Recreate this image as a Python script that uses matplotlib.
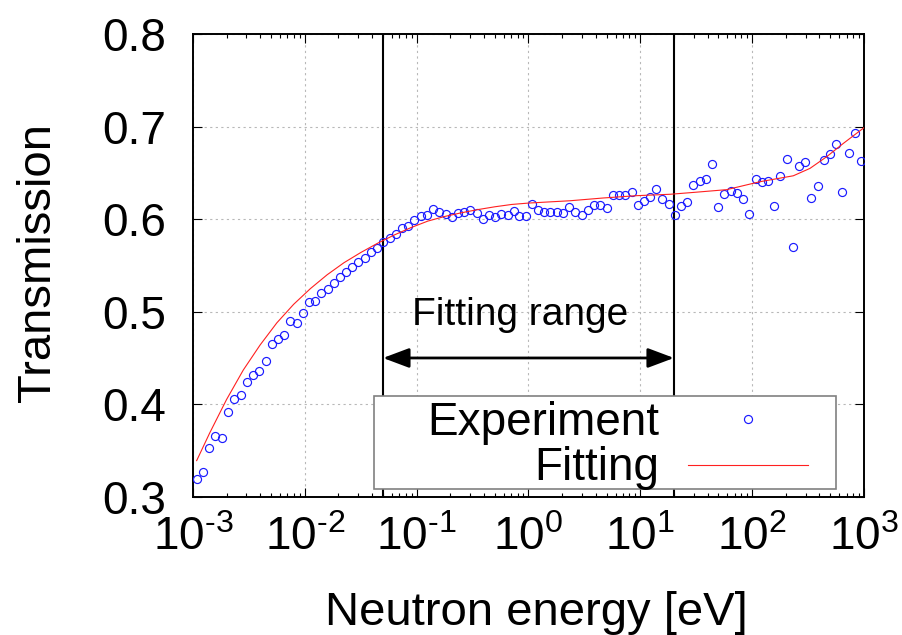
import numpy as np
import matplotlib
matplotlib.use('Agg')
import matplotlib.pyplot as plt
from matplotlib.patches import Rectangle

plt.rcParams['font.family'] = ['Liberation Sans', 'DejaVu Sans']
plt.rcParams['mathtext.fontset'] = 'custom'
plt.rcParams['mathtext.rm'] = 'Liberation Sans'
plt.rcParams['mathtext.it'] = 'Liberation Sans:italic'
plt.rcParams['mathtext.bf'] = 'Liberation Sans:bold'

# measured transmission, x given as log10(E / eV)
exp_log_e = [-2.967, -2.908, -2.854, -2.801, -2.743, -2.684, -2.631, -2.573, -2.520, -2.463,
             -2.407, -2.350, -2.296, -2.243, -2.186, -2.132, -2.073, -2.019, -1.965, -1.909,
             -1.853, -1.796, -1.742, -1.686, -1.632, -1.576, -1.522, -1.465, -1.411, -1.355,
             -1.301, -1.241, -1.185, -1.131, -1.075, -1.021, -0.961, -0.910, -0.857, -0.798,
             -0.740, -0.687, -0.630, -0.574, -0.520, -0.463, -0.407, -0.356, -0.299, -0.246,
             -0.186, -0.130, -0.082, -0.025, 0.031, 0.085, 0.139, 0.195, 0.252, 0.309,
             0.365, 0.419, 0.476, 0.532, 0.589, 0.642, 0.699, 0.753, 0.809, 0.866,
             0.923, 0.977, 1.033, 1.087, 1.140, 1.197, 1.254, 1.308, 1.364, 1.420,
             1.474, 1.531, 1.587, 1.641, 1.697, 1.751, 1.808, 1.864, 1.921, 1.975,
             2.032, 2.085, 2.142, 2.195, 2.252, 2.309, 2.363, 2.416, 2.473, 2.529,
             2.586, 2.640, 2.696, 2.750, 2.806, 2.863, 2.917, 2.973]
exp_trans = [0.319, 0.327, 0.353, 0.366, 0.363, 0.392, 0.406, 0.410, 0.424, 0.432,
             0.436, 0.447, 0.465, 0.471, 0.475, 0.490, 0.488, 0.499, 0.510, 0.512,
             0.520, 0.525, 0.531, 0.538, 0.543, 0.548, 0.554, 0.558, 0.565, 0.569,
             0.575, 0.580, 0.584, 0.591, 0.593, 0.599, 0.603, 0.605, 0.611, 0.608,
             0.606, 0.602, 0.607, 0.608, 0.610, 0.607, 0.600, 0.605, 0.602, 0.606,
             0.605, 0.609, 0.604, 0.604, 0.616, 0.610, 0.608, 0.608, 0.608, 0.607,
             0.613, 0.608, 0.605, 0.610, 0.615, 0.615, 0.612, 0.626, 0.626, 0.626,
             0.629, 0.615, 0.620, 0.624, 0.633, 0.622, 0.617, 0.605, 0.614, 0.619,
             0.637, 0.641, 0.644, 0.660, 0.613, 0.627, 0.631, 0.628, 0.622, 0.606,
             0.644, 0.640, 0.641, 0.614, 0.647, 0.665, 0.570, 0.658, 0.662, 0.623,
             0.636, 0.664, 0.671, 0.681, 0.630, 0.672, 0.693, 0.663]

# fitted curve
fit_log_e = [-2.967, -2.85, -2.70, -2.55, -2.40, -2.25, -2.10, -1.95, -1.80, -1.65,
             -1.50, -1.35, -1.20, -1.05, -0.90, -0.75, -0.60, -0.45, -0.30, -0.15,
             0.0, 0.371, 0.669, 0.967, 1.265, 1.474, 1.772, 2.070, 2.368, 2.517,
             2.666, 2.815, 3.0]
fit_trans = [0.339, 0.369, 0.405, 0.437, 0.464, 0.488, 0.508, 0.525, 0.540, 0.553,
             0.564, 0.574, 0.583, 0.591, 0.598, 0.603, 0.607, 0.6105, 0.6135, 0.616,
             0.6175, 0.620, 0.623, 0.6255, 0.627, 0.629, 0.632, 0.6406, 0.647, 0.655,
             0.6676, 0.682, 0.699]

range_lo, range_hi = 0.05, 20.0
y_ticks = [0.3, 0.4, 0.5, 0.6, 0.7, 0.8]

exp_e = 10.0 ** np.array(exp_log_e)
fit_e = 10.0 ** np.array(fit_log_e)


def decade_label(v, pos):
    # gnuplot style: plain hyphen in the exponent
    p = int(round(np.log10(v)))
    s = str(p).replace('-', '\u2010')
    return r'$\mathregular{10^{%s}}$' % s


fig = plt.figure(figsize=(9.03, 6.35), dpi=100)
ax = fig.add_axes([0.2137, 0.2178, 0.7431, 0.7282])

ax.plot(exp_e, exp_trans, 'o', mfc='none', mec='#1a1aff', ms=5.8, mew=0.85, zorder=3)
ax.plot(fit_e, fit_trans, color='#ff2020', lw=0.8, zorder=3)

ax.axvline(range_lo, color='black', lw=1.5, zorder=2)
ax.axvline(range_hi, color='black', lw=1.5, zorder=2)
ax.annotate('', xy=(range_lo, 0.45), xytext=(range_hi, 0.45),
            arrowprops=dict(arrowstyle='<|-|>,head_length=0.8,head_width=0.3',
                            color='black', lw=2, mutation_scale=20,
                            shrinkA=0, shrinkB=0))
ax.text(0.84, 0.486, 'Fitting range', fontsize=28, ha='center', va='baseline')

ax.set_xscale('log')
ax.set_xlim(1e-3, 1e3)
ax.set_ylim(0.3, 0.8)
ax.set_yticks(y_ticks)
ax.set_yticklabels(['%.1f' % v for v in y_ticks])
ax.xaxis.set_major_locator(matplotlib.ticker.LogLocator(base=10, numticks=10))
ax.xaxis.set_major_formatter(matplotlib.ticker.FuncFormatter(decade_label))
ax.xaxis.set_minor_locator(matplotlib.ticker.LogLocator(base=10, subs=np.arange(2, 10), numticks=20))
ax.xaxis.set_minor_formatter(matplotlib.ticker.NullFormatter())

ax.grid(which='major', color='#b8b8b8', linestyle=(0, (2, 3)), lw=0.8)
ax.set_axisbelow(True)
ax.tick_params(which='both', direction='in', top=True, right=True, width=0.8)
ax.tick_params(which='major', length=6.5, labelsize=33)
ax.tick_params(which='minor', length=3.2)
ax.tick_params(axis='y', pad=19)
ax.tick_params(axis='x', pad=14)
for s in ax.spines.values():
    s.set_linewidth(1.4)

# legend drawn by hand so the labels sit right-aligned like gnuplot's
ax.add_patch(Rectangle((0.2697, 0.0167), 0.6885, 0.2011, transform=ax.transAxes,
                       fc='white', ec='#808080', lw=1.2, zorder=5))
ax.text(0.6945, 0.1334, 'Experiment', transform=ax.transAxes, fontsize=33,
        ha='right', va='baseline', zorder=6)
ax.text(0.6945, 0.0361, 'Fitting', transform=ax.transAxes, fontsize=33,
        ha='right', va='baseline', zorder=6)
ax.plot([0.827], [0.168], 'o', mfc='none', mec='#1a1aff', ms=5.8, mew=0.85,
        transform=ax.transAxes, zorder=6)
ax.plot([0.7377, 0.9165], [0.0686, 0.0686], color='#ff2020', lw=0.8,
        transform=ax.transAxes, zorder=6)

fig.text(536 / 903, 1 - 625 / 635, 'Neutron energy [eV]', fontsize=34,
         ha='center', va='baseline')
fig.text(50 / 903, 1 - 262 / 635, 'Transmission', fontsize=34, rotation=90,
         rotation_mode='anchor', ha='center', va='baseline')

fig.savefig('out.png', dpi=100)
